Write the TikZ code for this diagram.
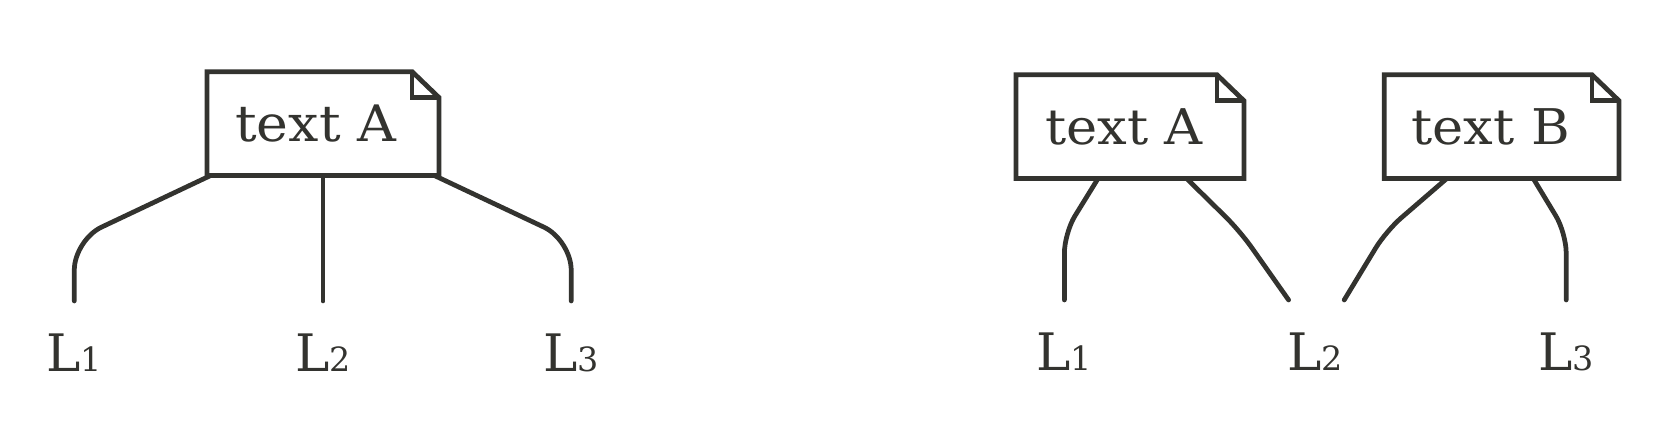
\documentclass[tikz,border=0pt]{standalone}
\usepackage{fontspec}
\setmainfont{DejaVu Serif}
\newfontfamily\notefont[FakeStretch=1.07]{DejaVu Serif}
\usepackage{tikz}

\definecolor{ink}{RGB}{51,51,47}

% outline of a note with a folded corner round a named node
\newcommand{\notefold}[1]{%
  \draw (#1.south west) |- ([xshift=-0.27cm]#1.north east) -- ([yshift=-0.26cm]#1.north east) -- (#1.south east) -- cycle;
  \draw ([xshift=-0.27cm]#1.north east) |- ([yshift=-0.26cm]#1.north east);}
\newcommand{\sub}[1]{{\fontsize{9.5}{11}\selectfont #1}}

\begin{document}
\begin{tikzpicture}[ink, line width=1.35pt,
    notebox/.style={inner sep=0, minimum height=0.99cm},
    lab/.style={inner sep=0, anchor=base, font=\fontsize{14.7}{17}\selectfont},
    branch/.style={line cap=round, rounded corners=0.3cm}]
      \useasboundingbox (0, 0) rectangle (16.74, -4.44);
      % one tree
      \node[notebox, minimum width=2.274cm, font=\notefont\fontsize{14.3}{17}\selectfont] (ta) at (3.23, -1.235) {text A\kern0.14cm};
      \notefold{ta}
      \node[lab] (l1) at (0.743, -3.71) {L\sub{1}};
      \node[lab] (l2) at (3.23, -3.71) {L\sub{2}};
      \node[lab] (l3) at (5.712, -3.71) {L\sub{3}};
      \draw[branch] ([xshift=0.04cm]ta.south west) -- (0.743, -2.40) -- ([yshift=0.30cm]l1.north);
      \draw[branch] (ta.south) -- ([yshift=0.30cm]l2.north);
      \draw[branch] ([xshift=-0.05cm]ta.south east) -- (5.712, -2.40) -- ([yshift=0.30cm]l3.north);
      % two trees sharing L2
      \node[notebox, minimum width=2.234cm, font=\notefont\fontsize{14}{16}\selectfont] (na) at (11.30, -1.267) {text A\kern0.12cm};
      \node[notebox, minimum width=2.30cm, font=\notefont\fontsize{14}{16}\selectfont] (nb) at (15.017, -1.267) {text B\kern0.22cm};
      \notefold{na}
      \notefold{nb}
      \node[lab] (r1) at (10.644, -3.70) {L\sub{1}};
      \node[lab] (r2) at (13.153, -3.70) {L\sub{2}};
      \node[lab] (r3) at (15.662, -3.70) {L\sub{3}};
      \draw[branch, rounded corners=0.2cm] ([xshift=-0.32cm]na.south) -- (10.644, -2.33) -- ([yshift=0.30cm]r1.north);
      \draw[branch, rounded corners=0.2cm] ([xshift=0.567cm]na.south) -- (12.40, -2.31) -- ([xshift=-0.267cm, yshift=0.30cm]r2.north);
      \draw[branch, rounded corners=0.2cm] ([xshift=-0.55cm]nb.south) -- (13.86, -2.31) -- ([xshift=0.289cm, yshift=0.30cm]r2.north);
      \draw[branch, rounded corners=0.2cm] ([xshift=0.316cm]nb.south) -- (15.662, -2.33) -- ([yshift=0.30cm]r3.north);
    \end{tikzpicture}
\end{document}
